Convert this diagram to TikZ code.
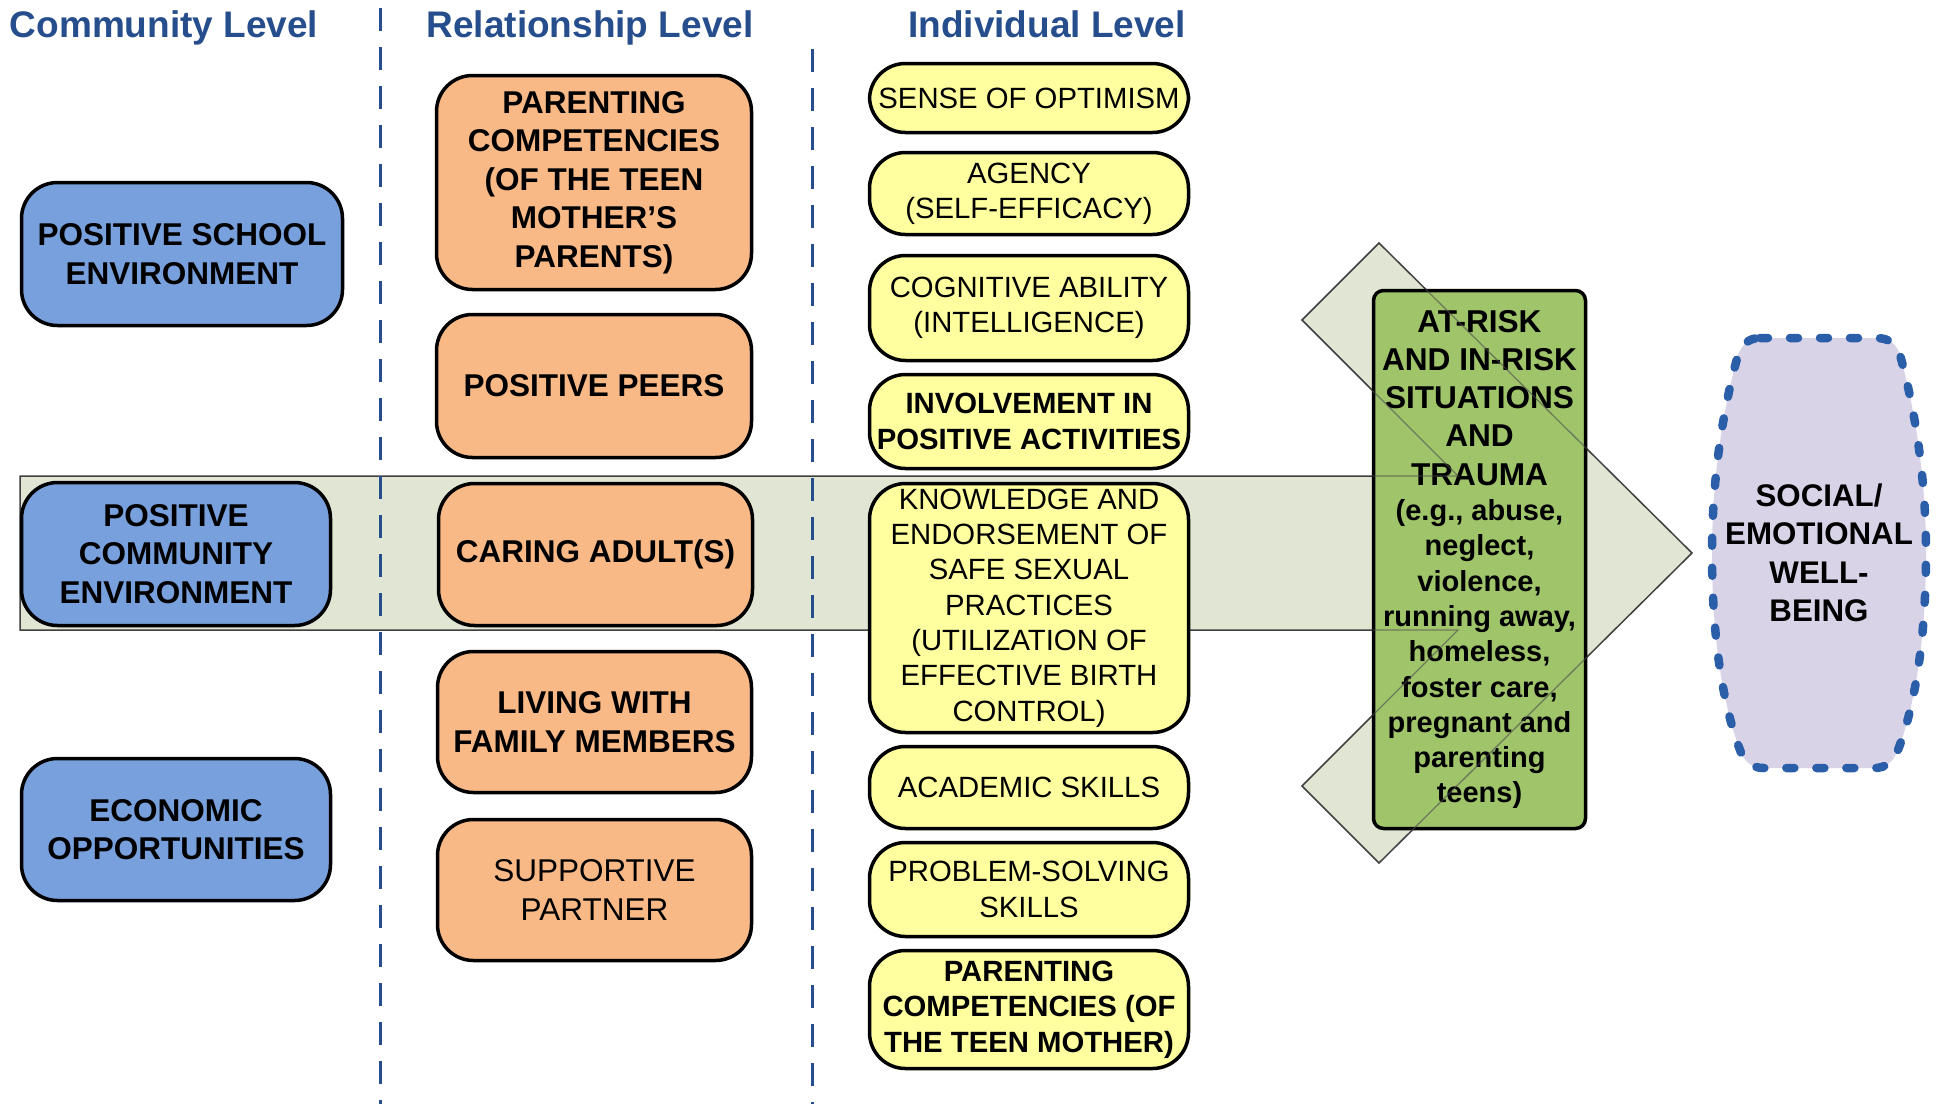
\documentclass[tikz,border=0pt]{standalone}
\usepackage{fontspec}
\setmainfont{Liberation Sans}
\definecolor{hdrblue}{RGB}{38,78,140}
\definecolor{blueF}{RGB}{120,160,220}
\definecolor{orangeF}{RGB}{248,185,135}
\definecolor{yellowF}{RGB}{255,255,160}
\definecolor{greenF}{RGB}{160,196,106}
\definecolor{bandF}{RGB}{225,230,212}
\definecolor{lilacF}{RGB}{217,211,232}
\definecolor{dotblue}{RGB}{43,94,168}
\newcommand{\bigT}{\fontsize{31.6}{38.3}\selectfont}
\begin{document}
\begin{tikzpicture}[x=1pt,y=-1pt]
\tikzset{
  wh/.style 2 args={minimum width=#1pt, minimum height=#2pt},
  boxbase/.style={draw=black, line width=3.5pt, rounded corners=36pt, inner sep=0pt, align=center, text=black},
  bluebox/.style={boxbase, fill=blueF, font=\fontsize{31.5}{38.7}\selectfont\bfseries},
  orangebox/.style={boxbase, fill=orangeF, font=\fontsize{31.5}{38.5}\selectfont\bfseries},
  orangereg/.style={boxbase, fill=orangeF, font=\fontsize{31.5}{38.5}\selectfont},
  ybox/.style={boxbase, fill=yellowF, font=\fontsize{29.3}{35.3}\selectfont},
  yboxb/.style={boxbase, fill=yellowF, font=\fontsize{29.3}{35.3}\selectfont\bfseries},
  greenbox/.style={draw=black, line width=3.5pt, rounded corners=10pt, inner sep=0pt, align=center, fill=greenF, font=\fontsize{29}{35.3}\selectfont\bfseries},
  hdr/.style={font=\fontsize{37}{44}\selectfont\bfseries, text=hdrblue, anchor=base, inner sep=0pt},
  divider/.style={draw=hdrblue, line width=3pt, dash pattern=on 23pt off 16pt},
  bandstyle/.style={fill=bandF, draw=black!75, line width=1.5pt},
  bandline/.style={draw=black!70, line width=1.3pt},
  wellbeing/.style={fill=lilacF, draw=dotblue, line width=8.5pt, line cap=round, dash pattern=on 8pt off 22pt},
}
\fill[white] (0,0) rectangle (1936,1104);
\useasboundingbox (0,0) rectangle (1936,1104);

% arrow band
\coordinate (a1) at (20,476);
\coordinate (a2) at (1458,476);
\coordinate (a3) at (1302,320);
\coordinate (a4) at (1379,243);
\coordinate (a5) at (1692,553);
\coordinate (a6) at (1379,863);
\coordinate (a7) at (1302,786);
\coordinate (a8) at (1458,630);
\coordinate (a9) at (20,630);
\path[bandstyle] (a1) -- (a2) -- (a3) -- (a4) -- (a5) -- (a6) -- (a7) -- (a8) -- (a9) -- cycle;

% dividers
\coordinate (d1t) at (380,8);
\coordinate (d1b) at (380,1104);
\coordinate (d2t) at (812,49);
\coordinate (d2b) at (812,1104);
\draw[divider] (d1t) -- (d1b);
\draw[divider] (d2t) -- (d2b);

% headers
\node[hdr] (h1) at (164,37) {Community Level};
\node[hdr] (h2) at (590,37) {Relationship Level};
\node[hdr] (h3) at (1047,37) {Individual Level};

% community level
\node[bluebox, wh={321}{143}] (school) at (182,254) {POSITIVE SCHOOL\\ENVIRONMENT};
\node[bluebox, wh={309}{143}] (commenv) at (176,554) {POSITIVE\\COMMUNITY\\ENVIRONMENT};
\node[bluebox, wh={309}{142}] (econ) at (176,829.5) {ECONOMIC\\OPPORTUNITIES};

% relationship level
\node[orangebox, wh={315}{214}] (parents) at (594,182.5) {PARENTING\\COMPETENCIES\\(OF THE TEEN\\MOTHER’S\\PARENTS)};
\node[orangebox, wh={315}{143}] (peers) at (594,386) {POSITIVE PEERS};
\node[orangebox, wh={314}{142}] (caring) at (595.5,554.5) {CARING ADULT(S)};
\node[orangebox, wh={314}{141}] (family) at (594.5,722) {LIVING WITH\\FAMILY MEMBERS};
\node[orangereg, wh={314}{141}] (partner) at (594.5,890) {SUPPORTIVE\\PARTNER};

% individual level
\node[ybox, wh={319}{69}] (optim) at (1029,98) {SENSE OF OPTIMISM};
\node[ybox, wh={319}{82}] (agency) at (1029,193.5) {AGENCY\\(SELF-EFFICACY)};
\node[ybox, wh={319}{105}] (cogn) at (1029,308) {COGNITIVE ABILITY\\(INTELLIGENCE)};
\node[yboxb, wh={319}{94}] (involve) at (1029,421.5) {INVOLVEMENT IN\\POSITIVE ACTIVITIES};
\node[ybox, wh={319}{249}] (sexual) at (1029,608) {KNOWLEDGE AND\\ENDORSEMENT OF\\SAFE SEXUAL\\PRACTICES\\(UTILIZATION OF\\EFFECTIVE BIRTH\\CONTROL)};
\node[ybox, wh={319}{82}] (academic) at (1029,787.5) {ACADEMIC SKILLS};
\node[ybox, wh={319}{94}] (problem) at (1029,889.5) {PROBLEM-SOLVING\\SKILLS};
\node[yboxb, wh={319}{118}] (teenpar) at (1029,1009.5) {PARENTING\\COMPETENCIES (OF\\THE TEEN MOTHER)};

% at-risk box
\node[greenbox, wh={212}{538}] (risk) at (1479.5,559.5) {\bigT AT-RISK\\[3pt]\bigT AND IN-RISK\\[3pt]\bigT SITUATIONS\\[3pt]\bigT AND\\[3pt]\bigT TRAUMA\\(e.g., abuse,\\neglect,\\violence,\\running away,\\homeless,\\foster care,\\pregnant and\\parenting\\teens)};
\begin{scope}
  \clip (risk.north west) rectangle (risk.south east);
  \draw[bandline, opacity=0.6] (a1) -- (a2) -- (a3) -- (a4) -- (a5) -- (a6) -- (a7) -- (a8) -- (a9);
\end{scope}

% well-being shape
\draw[wellbeing] (1760,338) -- (1876,338)
  .. controls (1890,338) and (1897,345) .. (1900,355)
  .. controls (1918,420) and (1926,490) .. (1926,553)
  .. controls (1926,630) and (1917,700) .. (1898,750)
  .. controls (1893,762) and (1886,768) .. (1874,768)
  -- (1764,768)
  .. controls (1752,768) and (1744,762) .. (1740,750)
  .. controls (1721,700) and (1712,630) .. (1712,553)
  .. controls (1712,490) and (1720,420) .. (1738,355)
  .. controls (1742,345) and (1748,338) .. (1760,338) -- cycle;
\node[font=\fontsize{31.3}{38.5}\selectfont\bfseries, align=center, inner sep=0pt] (wellb) at (1819,553) {SOCIAL/\\EMOTIONAL\\WELL-\\BEING};
\end{tikzpicture}
\end{document}
